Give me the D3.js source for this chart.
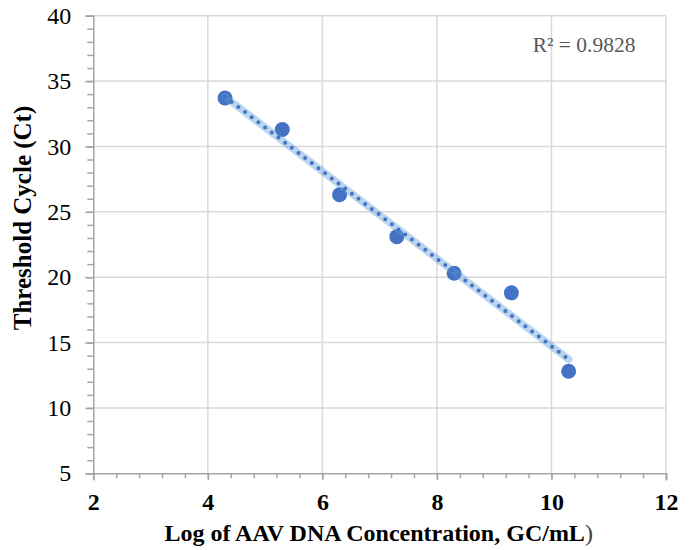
<!DOCTYPE html>
<html>
<head>
<meta charset="utf-8">
<script src="https://cdnjs.cloudflare.com/ajax/libs/d3/7.8.5/d3.min.js"></script>
<style>
  body { margin: 0; background: #fff; }
  text { font-family: "Liberation Serif", "Times New Roman", serif; }
</style>
</head>
<body>
<div id="scatter"></div>
<script>
// chart data
var logConc = [4.3, 5.3, 6.3, 7.3, 8.3, 9.3, 10.3];
var ctValues = [33.7, 31.3, 26.3, 23.1, 20.3, 18.8, 12.8];
var xTicks = [2, 4, 6, 8, 10, 12];
var yTicks = [5, 10, 15, 20, 25, 30, 35, 40];
var rSquaredLabel = "R² = 0.9828";

var svgWidth = 694;
var svgHeight = 550;

var margin = {
  top: 15.7,
  right: 28,
  bottom: 76.7,
  left: 93.3
};

var width = svgWidth - margin.left - margin.right;
var height = svgHeight - margin.top - margin.bottom;

var svg = d3
  .select("#scatter")
  .append("svg")
  .attr("width", svgWidth)
  .attr("height", svgHeight)
  .style("background", "#fff");

var chartGroup = svg.append("g")
  .attr("transform", `translate(${margin.left}, ${margin.top})`);

var xLinearScale = d3.scaleLinear().domain([2, 12]).range([0, width]);
var yLinearScale = d3.scaleLinear().domain([5, 40]).range([height, 0]);

// gridlines
chartGroup.append("g")
  .selectAll("line")
  .data(yTicks.slice(1))
  .enter()
  .append("line")
  .attr("x1", 0)
  .attr("x2", width)
  .attr("y1", d => yLinearScale(d))
  .attr("y2", d => yLinearScale(d))
  .attr("stroke", "#d9d9d9")
  .attr("stroke-width", 1.5);

chartGroup.append("g")
  .selectAll("line")
  .data(xTicks.slice(1))
  .enter()
  .append("line")
  .attr("x1", d => xLinearScale(d))
  .attr("x2", d => xLinearScale(d))
  .attr("y1", 0)
  .attr("y2", height)
  .attr("stroke", "#d9d9d9")
  .attr("stroke-width", 1.5);

// minor ticks
var yMinor = d3.range(5, 40.01, 1);
var xMinor = d3.range(2, 12.01, 0.4);

var leftAxis = d3.axisLeft(yLinearScale).tickValues(yMinor).tickSize(6).tickFormat("");
var bottomAxis = d3.axisBottom(xLinearScale).tickValues(xMinor).tickSize(5).tickFormat("");

var yMinorAxis = chartGroup.append("g").call(leftAxis);
var xMinorAxis = chartGroup.append("g")
  .attr("transform", `translate(0, ${height})`)
  .call(bottomAxis);

// major ticks with labels
var yAxis = chartGroup.append("g")
  .call(d3.axisLeft(yLinearScale).tickValues(yTicks).tickSize(8).tickPadding(14));
var xAxis = chartGroup.append("g")
  .attr("transform", `translate(0, ${height})`)
  .call(d3.axisBottom(xLinearScale).tickValues(xTicks).tickSize(7).tickPadding(13));

[yMinorAxis, xMinorAxis, yAxis, xAxis].forEach(function(ax) {
  ax.selectAll("path").attr("stroke", "#a6a6a6").attr("stroke-width", 1.5);
  ax.selectAll("line").attr("stroke", "#a6a6a6").attr("stroke-width", 1.5);
});
xMinorAxis.select("path").remove();
yMinorAxis.select("path").remove();

yAxis.selectAll("text")
  .attr("font-size", 24)
  .attr("fill", "#000")
  .style("font-family", "'Liberation Serif', serif");

xAxis.selectAll("text")
  .attr("font-size", 24)
  .attr("font-weight", "bold")
  .attr("fill", "#000")
  .style("font-family", "'Liberation Serif', serif");

// points
var points = logConc.map((x, i) => ({ x: x, y: ctValues[i] }));

chartGroup.selectAll("circle")
  .data(points)
  .enter()
  .append("circle")
  .attr("cx", d => xLinearScale(d.x))
  .attr("cy", d => yLinearScale(d.y))
  .attr("r", 7.5)
  .attr("fill", "#4472c4");

// linear trendline (least squares over the points)
var mx = d3.mean(logConc);
var my = d3.mean(ctValues);
var sxy = d3.sum(logConc, (x, i) => (x - mx) * (ctValues[i] - my));
var sxx = d3.sum(logConc, x => (x - mx) * (x - mx));
var slope = sxy / sxx;
var intercept = my - slope * mx;
var xEnds = d3.extent(logConc);
var trend = xEnds.map(x => [xLinearScale(x), yLinearScale(intercept + slope * x)]);

chartGroup.append("path")
  .attr("d", d3.line()(trend))
  .attr("stroke", "#5b9bd5")
  .attr("stroke-opacity", 0.42)
  .attr("stroke-width", 7.5)
  .attr("stroke-linecap", "round")
  .attr("fill", "none");

chartGroup.append("path")
  .attr("d", d3.line()(trend))
  .attr("stroke", "#4472c4")
  .attr("stroke-width", 4)
  .attr("stroke-linecap", "round")
  .attr("stroke-dasharray", "0 8.4")
  .attr("fill", "none");

// R squared label
svg.append("text")
  .attr("x", 532.7)
  .attr("y", 51.5)
  .attr("font-size", 21.5)
  .attr("fill", "#595959")
  .text(rSquaredLabel);

// axis titles
var xTitle = svg.append("text")
  .attr("x", margin.left + width / 2 - 1)
  .attr("y", 541)
  .attr("text-anchor", "middle")
  .attr("font-size", 24)
  .attr("font-weight", "bold")
  .attr("fill", "#000");
xTitle.append("tspan").text("Log of AAV DNA Concentration, GC/mL");
xTitle.append("tspan").attr("font-weight", "normal").attr("fill", "#404040").text(")");

svg.append("text")
  .attr("transform", "translate(31, 218) rotate(-90)")
  .attr("text-anchor", "middle")
  .attr("font-size", 25)
  .attr("font-weight", "bold")
  .attr("fill", "#000")
  .text("Threshold Cycle (Ct)");
</script>
</body>
</html>
